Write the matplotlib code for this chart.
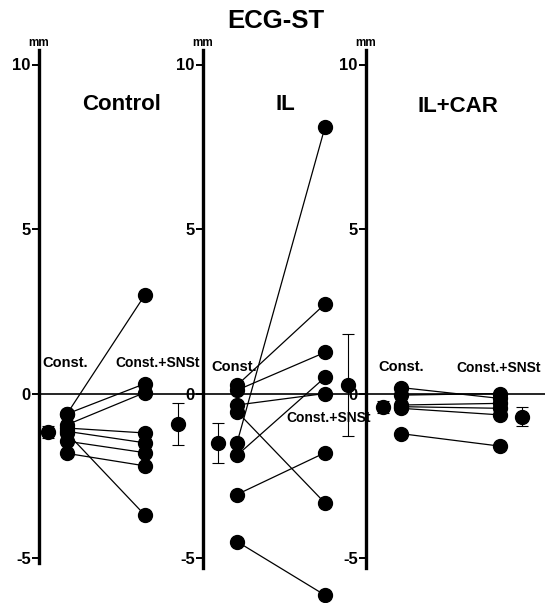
import matplotlib.pyplot as plt

# ST-segment change (mm), one value per animal
control_const = [-0.62, -0.62, -0.95, -1.05, -1.15, -1.2, -1.45, -1.82]
control_snst = [3.0, 0.3, 0.03, -1.2, -1.5, -3.7, -1.8, -2.2]

il_const = [0.25, 0.1, -0.35, -0.55, -1.5, -1.88, -3.07, -4.5]
il_snst = [2.72, 1.25, 0.0, -3.33, 8.1, 0.49, -1.8, -6.13]

ilcar_const = [0.18, -0.05, -0.35, -0.4, -0.45, -1.22]
ilcar_snst = [-0.15, 0.0, -0.3, -0.45, -0.65, -1.6]

# group means and error bars (Const., Const.+SNSt)
control_mean = [-1.17, -0.93]
control_err = [0.17, 0.64]
il_mean = [-1.5, 0.26]
il_err = [0.6, 1.55]
ilcar_mean = [-0.41, -0.71]
ilcar_err = [0.18, 0.29]

panel_names = ["Control", "IL", "IL+CAR"]
yticks = [-5, 0, 5, 10]

# ---- layout (pixels) ----
W, H = 545, 603
Y0, S = 393.5, 32.9          # pixel row of 0 mm, pixels per mm
YLIM = (-6.35, 10.8)
axis_x = [39, 203, 366]      # where each vertical axis sits
right_x = [203, 366, 545]
spine_bottom = [-5.16, -5.3, -5.3]
# x offsets inside a panel: left mean, Const., Const.+SNSt, right mean
xpos = [[9, 28, 106, 139], [15, 34, 122, 145], [17, 35, 134, 156]]
name_xy = [(122, 105), (285, 105), (458, 106)]
const_lab = [[(26, 363), (119, 363)], [(31, 367), (126, 418)], [(35, 367), (133, 368)]]

# no condensed face is installed, Liberation Sans (Arial metrics) is the narrowest
font = ["Liberation Sans", "DejaVu Sans"]

fig = plt.figure(figsize=(W / 100, H / 100), dpi=100)

def px(x, y):
    return x / W, 1 - y / H

top_px = Y0 - S * YLIM[1]
bot_px = Y0 - S * YLIM[0]

groups = [
    (control_const, control_snst, control_mean, control_err),
    (il_const, il_snst, il_mean, il_err),
    (ilcar_const, ilcar_snst, ilcar_mean, ilcar_err),
]

for i, (c, s, m, e) in enumerate(groups):
    w = right_x[i] - axis_x[i]
    ax = fig.add_axes([axis_x[i] / W, (H - bot_px) / H, w / W, (bot_px - top_px) / H])
    ax.set_xlim(0, w)
    ax.set_ylim(*YLIM)
    ax.patch.set_alpha(0)
    for sp in ["top", "right", "bottom"]:
        ax.spines[sp].set_visible(False)
    ax.spines["left"].set_linewidth(2.4)
    ax.spines["left"].set_bounds(spine_bottom[i], 10.44)
    ax.set_xticks([])
    ax.set_yticks(yticks)
    ax.set_yticklabels([str(t) for t in yticks], family=font, fontweight="bold", fontsize=12)
    ax.tick_params(axis="y", direction="out", length=5, width=1.4, pad=1)

    ax.axhline(0, color="black", lw=1.2, zorder=1)

    xa, xb = xpos[i][1], xpos[i][2]
    for a, b in zip(c, s):
        ax.plot([xa, xb], [a, b], color="black", lw=0.9, zorder=2)
    ax.plot([xa] * len(c), c, "o", color="black", ms=10, zorder=3, clip_on=False)
    ax.plot([xb] * len(s), s, "o", color="black", ms=10, zorder=3, clip_on=False)

    ax.errorbar([xpos[i][0], xpos[i][3]], m, yerr=e, fmt="o", color="black",
                ms=10, elinewidth=0.8, capsize=4.5, capthick=0.8, zorder=3)

    (lx1, ly1), (lx2, ly2) = const_lab[i]
    ax.text(lx1, (Y0 - ly1) / S, "Const.", family=font, fontweight="bold",
            fontsize=10.5, ha="center", va="center")
    ax.text(lx2, (Y0 - ly2) / S, "Const.+SNSt", family=font, fontweight="bold",
            fontsize=10, ha="center", va="center")

    fig.text(*px(axis_x[i], 43), "mm", family=font, fontweight="bold",
             fontsize=8.5, ha="center", va="center")
    fig.text(*px(*name_xy[i]), panel_names[i], family=font, fontweight="bold",
             fontsize=16, ha="center", va="center")

fig.text(*px(276, 21), "ECG-ST", family=font, fontweight="bold",
         fontsize=18.5, ha="center", va="center")

fig.savefig("out.png", dpi=100)
